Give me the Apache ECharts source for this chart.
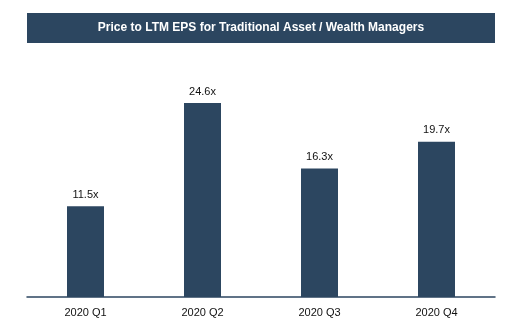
<!DOCTYPE html>
<html>
<head>
<meta charset="utf-8">
<script src="https://cdn.jsdelivr.net/npm/echarts@6/dist/echarts.min.js"></script>
<style>
  html, body { margin: 0; padding: 0; background: #fff; }
  #chart { width: 518px; height: 332px; }
</style>
</head>
<body>
<div id="chart"></div>
<script>
// Quarterly price / LTM EPS multiples
const categories = ['2020 Q1', '2020 Q2', '2020 Q3', '2020 Q4'];
const multiples = [11.5, 24.6, 16.3, 19.7];
const titleText = 'Price to LTM EPS for Traditional Asset / Wealth Managers';

const navy = '#2c4660';
const chart = echarts.init(document.getElementById('chart'));

chart.setOption({
  animation: false,
  graphic: [
    {
      type: 'rect',
      shape: { x: 27, y: 13, width: 468, height: 30 },
      style: { fill: navy }
    },
    {
      type: 'text',
      x: 261, y: 28,
      style: {
        text: titleText,
        fill: '#ffffff',
        font: 'bold 12px "Liberation Sans", Arial, sans-serif',
        align: 'center',
        verticalAlign: 'middle'
      }
    }
  ],
  grid: { left: 27, right: 23, top: 60.4, bottom: 35 },
  xAxis: {
    type: 'category',
    data: categories,
    axisTick: { show: false },
    axisLine: { lineStyle: { color: navy, width: 1.5 } },
    axisLabel: {
      color: '#111',
      fontSize: 11,
      fontFamily: '"Liberation Sans", Arial, sans-serif',
      margin: 10
    }
  },
  yAxis: {
    type: 'value',
    min: 0,
    max: 30,
    show: false,
    splitLine: { show: false }
  },
  series: [{
    type: 'bar',
    data: multiples,
    barWidth: 37,
    itemStyle: { color: navy },
    label: {
      show: true,
      position: 'top',
      distance: 6,
      color: '#111',
      fontSize: 11,
      fontFamily: '"Liberation Sans", Arial, sans-serif',
      formatter: p => p.value.toFixed(1) + 'x'
    }
  }]
});
</script>
</body>
</html>
